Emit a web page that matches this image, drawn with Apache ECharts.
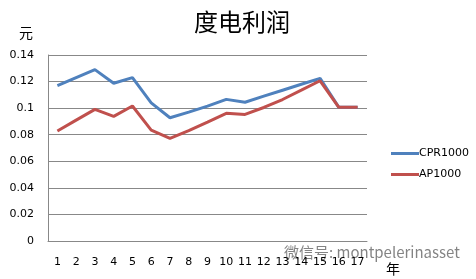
<!DOCTYPE html>
<html>
<head>
<meta charset="utf-8">
<script src="https://cdn.jsdelivr.net/npm/echarts@6/dist/echarts.min.js"></script>
<style>
  html, body { margin: 0; padding: 0; background: #fff; }
  #chart { width: 476px; height: 279px; }
</style>
</head>
<body>
<div id="chart"></div>
<script>
// 年份 1..17
var years = ['1','2','3','4','5','6','7','8','9','10','11','12','13','14','15','16','17'];
// 度电利润 (元)
var cpr1000 = [0.117, 0.123, 0.129, 0.1187, 0.123, 0.104, 0.0928, 0.097, 0.1015, 0.1066, 0.1044, 0.109, 0.1135, 0.118, 0.1224, 0.1006, 0.1006];
var ap1000 = [0.0828, 0.091, 0.0991, 0.0938, 0.1016, 0.0835, 0.0773, 0.083, 0.0895, 0.0961, 0.0953, 0.1005, 0.1065, 0.1135, 0.1206, 0.1006, 0.1006];

var cjk = '"Noto Sans CJK SC", sans-serif';
var chart = echarts.init(document.getElementById('chart'));
chart.setOption({
  animation: false,
  title: {
    text: '度电利润',
    left: 237, top: 5, textAlign: 'center',
    textStyle: { fontFamily: cjk, fontSize: 24, fontWeight: 'normal', color: '#000' }
  },
  legend: {
    orient: 'vertical',
    left: 386, top: 143,
    itemGap: 10,
    itemWidth: 28, itemHeight: 3,
    icon: 'rect',
    textStyle: { fontFamily: 'DejaVu Sans', fontSize: 11, color: '#000', padding: [0, 0, 0, -5] },
    data: ['CPR1000', 'AP1000']
  },
  grid: { left: 48, right: 109, top: 55, bottom: 38 },
  xAxis: {
    type: 'category',
    data: years,
    boundaryGap: true,
    axisLine: { lineStyle: { color: '#888', width: 1 } },
    axisTick: { show: false },
    axisLabel: { color: '#000', fontSize: 11, fontFamily: 'DejaVu Sans', margin: 16, interval: 0 }
  },
  yAxis: {
    type: 'value',
    min: 0, max: 0.14, interval: 0.02,
    axisLine: { show: true, lineStyle: { color: '#888', width: 1 } },
    axisTick: { show: false },
    splitLine: { lineStyle: { color: '#888', width: 1 } },
    axisLabel: {
      color: '#000', fontSize: 11, fontFamily: 'DejaVu Sans', margin: 14,
      formatter: function (v) { return String(+v.toFixed(2)); }
    }
  },
  graphic: [
    {
      type: 'text', left: 19, top: 26,
      style: { text: '元', font: '14px "Noto Sans CJK SC"', fill: '#000' }
    },
    {
      type: 'text', left: 386, top: 262,
      style: { text: '年', font: '14px "Noto Sans CJK SC"', fill: '#000' }
    },
    {
      type: 'text', left: 284, top: 245,
      style: { text: '微信号: montpelerinasset', font: '15px "Noto Sans CJK SC"', fill: 'rgba(90,90,90,0.75)' }
    }
  ],
  series: [
    {
      name: 'CPR1000', type: 'line', data: cpr1000,
      symbol: 'none', color: '#4F81BD',
      lineStyle: { width: 3, color: '#4F81BD' }
    },
    {
      name: 'AP1000', type: 'line', data: ap1000,
      symbol: 'none', color: '#C0504D',
      lineStyle: { width: 3, color: '#C0504D' }
    }
  ]
});
</script>
</body>
</html>
